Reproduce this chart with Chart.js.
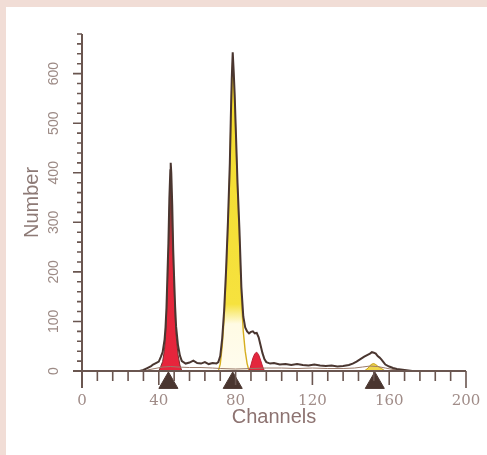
<!DOCTYPE html>
<html><head><meta charset="utf-8">
<script src="https://cdn.jsdelivr.net/npm/chart.js@4"></script>
<style>html,body{margin:0;padding:0;background:#f1ddd6;}canvas{display:block;}</style>
</head><body>
<canvas id="c" width="487" height="455"></canvas>
<script>
// ---- data ----
const totalCh = [30,32,34,36,37,38,39,40,41,42,43,43.5,44,44.5,45,45.5,46,46.2,46.5,47,47.5,48,48.5,49,50,51,52,54,56,58,60,62,64,66,68,70,71,72,73,74,75,76,77,77.5,78,78.5,79,79.5,80,81,82,83,84,85,86,87,88,89,90,91,92,93,94,95,96,98,100,103,106,109,112,115,118,121,124,127,130,133,136,139,141,143,145,147,149,150,151,152,153,154,155,156,157,158,160,162,164,166,168,170,172];
const totalV  = [0,2,6,10,13,15,17,19,28,38,63,88,128,193,258,348,405,420,400,335,245,185,130,90,52,31,20,15,17,21,16,15,18,14,16,15,18,30,65,120,200,300,420,510,590,643,605,560,500,380,285,170,110,88,80,76,79,80,76,77,68,52,36,24,18,15,16,13,14,12,14,12,11,13,11,10,11,9,10,12,15,19,24,29,33,35,38,37,35,30,27,23,18,13,9,6,4,3,2,1,0];

const redCh = [40,41,42,43,43.5,44,44.5,45,45.5,46,46.2,46.5,47,47.5,48,48.5,49,50,51,52];
const redV  = [0,9,19,44,69,109,174,239,329,386,400,381,316,226,166,112,72,33,12,0];

const red2Ch = [87,88,89,90,91,92,93,94,95];
const red2V  = [0,12,26,35,38,33,22,10,0];

const yellowCh = [71,72,73,74,75,76,77,77.5,78,78.5,79,79.5,80,81,82,83,84,85,86,87];
const yellowV  = [0,14,49,104,184,284,404,494,574,626,589,544,484,364,268,150,80,40,15,0];

const yellow2Ch = [147,149,150,151,152,153,154,156,158];
const yellow2V  = [0,6,11,14,15,13,10,5,0];

const lowerCh = [34,38,42,46,50,56,62,68,72,80,88,96,104,112,120,128,136,142,146,150,154,158,162,166];
const lowerV  = [2,5,8,9,8,7,7,6,5,4,5,6,6,5,6,5,5,6,8,10,9,6,3,1];

const markerCh = [45,78.5,152.5];

const xTickLabels = [0,40,80,120,160,200];
const yTickLabels = [0,100,200,300,400,500,600];
const xTitle = 'Channels';
const yTitle = 'Number';

// ---- chart ----
const pts = (xs, ys) => xs.map((x, i) => ({x, y: ys[i]}));
const AXIS = '#6a5650';
const MARKER_LEVEL = -24;

function vGrad(chart, stops, fallback) {
  const {ctx, chartArea, scales} = chart;
  if (!chartArea) return fallback;
  const y = scales.y;
  const y0 = y.getPixelForValue(0), y1 = y.getPixelForValue(y.max);
  const g = ctx.createLinearGradient(0, y0, 0, y1);
  stops.forEach(([v, c]) => g.addColorStop(Math.min(1, Math.max(0, v / y.max)), c));
  return g;
}

const framePlugin = {
  id: 'frame',
  beforeDraw(chart) {
    const c = chart.ctx;
    c.save();
    c.fillStyle = '#f1ddd6';
    c.fillRect(0, 0, chart.width, chart.height);
    c.fillStyle = '#ffffff';
    c.fillRect(6, 7, chart.width - 6, chart.height - 7);
    c.restore();
  }
};

const axesPlugin = {
  id: 'axesDraw',
  afterDatasetsDraw(chart) {
    const c = chart.ctx, xs = chart.scales.x, ys = chart.scales.y;
    const x0 = xs.getPixelForValue(0), x1 = xs.getPixelForValue(200);
    const y0 = ys.getPixelForValue(0), yTop = ys.getPixelForValue(ys.max);
    c.save();
    c.strokeStyle = AXIS;
    c.lineWidth = 2;
    c.lineCap = 'butt';
    c.beginPath();
    c.moveTo(x0 - 9, y0); c.lineTo(x1, y0);
    c.moveTo(x0, yTop); c.lineTo(x0, y0 + 17);
    c.stroke();
    c.lineWidth = 1.6;
    c.beginPath();
    xs.ticks.forEach(t => {
      const v = t.value, px = xs.getPixelForValue(v);
      if (v === 0) return;
      const len = (v === 200) ? 17 : (v % 40 === 0 ? 14 : 10);
      c.moveTo(px, y0); c.lineTo(px, y0 + len);
    });
    ys.ticks.forEach(t => {
      const v = t.value, py = ys.getPixelForValue(v);
      if (v === 0) return;
      const len = (v % 100 === 0) ? 9 : 5;
      c.moveTo(x0, py); c.lineTo(x0 - len, py);
    });
    c.stroke();
    c.restore();
  }
};

new Chart(document.getElementById('c'), {
  type: 'line',
  data: {
    datasets: [
      {
        label: 'markers',
        data: markerCh.map(x => ({x, y: MARKER_LEVEL})),
        showLine: false,
        pointStyle: 'triangle',
        pointRadius: 11,
        pointBackgroundColor: '#4a3630',
        pointBorderColor: '#4a3630',
        pointBorderWidth: 1,
        clip: false,
        order: 0
      },
      {
        label: 'total',
        data: pts(totalCh, totalV),
        borderColor: '#4a3630',
        borderWidth: 2,
        fill: false,
        pointRadius: 0,
        order: 1
      },
      {
        label: 'lower',
        data: pts(lowerCh, lowerV),
        borderColor: '#9a7a6a',
        borderWidth: 1,
        fill: false,
        pointRadius: 0,
        order: 2
      },
      {
        label: 'red',
        data: pts(redCh, redV),
        borderColor: '#7a2e2e',
        borderWidth: 1,
        backgroundColor: ctx => vGrad(ctx.chart, [[0, '#e8243c'], [230, '#e02a3c'], [330, '#7a3a36'], [680, '#5a3a34']], '#e8243c'),
        fill: 'origin',
        pointRadius: 0,
        order: 3
      },
      {
        label: 'red2',
        data: pts(red2Ch, red2V),
        borderColor: '#c02036',
        borderWidth: 1,
        backgroundColor: '#e4263d',
        fill: 'origin',
        pointRadius: 0,
        order: 3
      },
      {
        label: 'yellow',
        data: pts(yellowCh, yellowV),
        borderColor: '#d6ae1e',
        borderWidth: 1.4,
        backgroundColor: ctx => vGrad(ctx.chart, [[0, '#fffcee'], [95, '#fffbe4'], [135, '#f6e23e'], [680, '#f2d92a']], '#f4dc2c'),
        fill: 'origin',
        pointRadius: 0,
        order: 4
      },
      {
        label: 'yellow2',
        data: pts(yellow2Ch, yellow2V),
        borderColor: '#c9a21e',
        borderWidth: 1,
        backgroundColor: '#efd64a',
        fill: 'origin',
        pointRadius: 0,
        order: 4
      }
    ]
  },
  options: {
    responsive: false,
    animation: false,
    devicePixelRatio: 1,
    layout: { padding: { top: 34, right: 21, left: 0, bottom: 0 } },
    elements: { line: { tension: 0 } },
    plugins: { legend: { display: false }, tooltip: { enabled: false } },
    scales: {
      x: {
        type: 'linear',
        min: 0, max: 200,
        grid: { display: false, drawTicks: false },
        border: { display: false },
        ticks: {
          stepSize: 8,
          autoSkip: false,
          maxRotation: 0,
          padding: 21,
          color: '#a08c88',
          font: { family: 'DejaVu Serif', size: 15 },
          callback: v => xTickLabels.includes(v) ? String(v) : ''
        },
        title: {
          display: true,
          text: xTitle,
          color: '#8d7371',
          font: { family: 'Liberation Sans', size: 20 },
          padding: { top: 0, bottom: 26 }
        },
        afterFit: s => { s.height = 84; s.paddingLeft = 0; s.paddingRight = 0; }
      },
      y: {
        min: 0, max: 680,
        grid: { display: false, drawTicks: false },
        border: { display: false },
        ticks: {
          stepSize: 20,
          autoSkip: false,
          minRotation: 90,
          maxRotation: 90,
          crossAlign: 'center',
          padding: 16,
          color: '#9c8a85',
          font: { family: 'Liberation Sans', size: 14 },
          callback: v => yTickLabels.includes(v) ? String(v) : ''
        },
        title: {
          display: true,
          text: yTitle,
          color: '#8d7a76',
          font: { family: 'Liberation Sans', size: 20 },
          padding: { top: 20, bottom: 0 }
        },
        afterFit: s => { s.width = 82; s.paddingTop = 0; s.paddingBottom = 0; }
      }
    }
  },
  plugins: [framePlugin, axesPlugin]
});
</script>
</body></html>
